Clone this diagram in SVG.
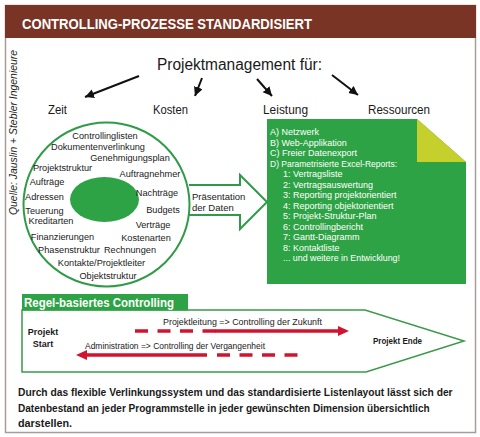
<svg xmlns="http://www.w3.org/2000/svg" width="480" height="437" viewBox="0 0 480 437">
<style>
text{font-family:"Liberation Sans",Arial,sans-serif;fill:#1a1a1a}
.ct{font-size:9.2px;text-anchor:middle}
.bx{font-size:9px;fill:#fff}
.lbl{font-size:13px}
.red{stroke:#d3132d;stroke-width:3.5;fill:none}
.blk{stroke:#111;stroke-width:2;fill:none;marker-end:url(#ah)}
.b{font-weight:bold}
.fz{font-size:11.5px;font-weight:bold}
</style>
<defs>
<marker id="ah" markerUnits="userSpaceOnUse" markerWidth="10" markerHeight="10" refX="9" refY="4.5" orient="auto"><path d="M0,0 L9,4.5 L0,9 z" fill="#111"/></marker>
</defs>
<rect x="0" y="0" width="480" height="437" fill="#fff"/>
<rect id="frame" x="5.5" y="5.5" width="470" height="427" fill="none" stroke="#a99c98" stroke-width="1.5"/>
<g id="header">
<rect x="5" y="5" width="471" height="33" fill="#7a3425"/>
<text x="22" y="29" font-size="15.5" class="b" style="fill:#fff" textLength="290" lengthAdjust="spacingAndGlyphs">CONTROLLING-PROZESSE STANDARDISIERT</text>
</g>
<text id="source" transform="translate(17,132.5) rotate(-90)" font-size="10" font-style="italic" text-anchor="middle" textLength="165" lengthAdjust="spacingAndGlyphs">Quelle: Jauslin + Stebler Ingenieure</text>
<g id="pm"><text x="157" y="69.5" font-size="16" textLength="165" lengthAdjust="spacingAndGlyphs">Projektmanagement für:</text></g>
<g id="zeit"><text x="48" y="114" class="lbl" textLength="19" lengthAdjust="spacingAndGlyphs">Zeit</text></g>
<g id="kosten"><text x="153" y="114" class="lbl" textLength="35" lengthAdjust="spacingAndGlyphs">Kosten</text></g>
<g id="leistung"><text x="263" y="114" class="lbl" textLength="45" lengthAdjust="spacingAndGlyphs">Leistung</text></g>
<g id="ressourcen"><text x="368" y="114" class="lbl" textLength="62" lengthAdjust="spacingAndGlyphs">Ressourcen</text></g>
<g id="connectors">
<line class="blk" x1="139" y1="76" x2="85" y2="97"/>
<line class="blk" x1="202" y1="78" x2="195" y2="96"/>
<line class="blk" x1="257" y1="79" x2="272" y2="96"/>
<line class="blk" x1="332" y1="75" x2="358" y2="95"/>
</g>
<g id="datenkreis">
<ellipse cx="106.5" cy="204.5" rx="83" ry="82" fill="none" stroke="#2f9b48" stroke-width="2"/>
<ellipse cx="104.5" cy="199.5" rx="34.5" ry="22.5" fill="#2ea345"/>
<text class="ct" x="105" y="139">Controllinglisten</text>
<text class="ct" x="98" y="150">Dokumentenverlinkung</text>
<text class="ct" x="130" y="160.5">Genehmigungsplan</text>
<text class="ct" x="62.5" y="170.5">Projektstruktur</text>
<text class="ct" x="150" y="177">Auftragnehmer</text>
<text class="ct" x="47" y="184.5">Aufträge</text>
<text class="ct" x="44.5" y="199.5">Adressen</text>
<text class="ct" x="157" y="195.5">Nachträge</text>
<text class="ct" x="44.5" y="213.5">Teuerung</text>
<text class="ct" x="163" y="212.5">Budgets</text>
<text class="ct" x="51" y="223.5">Kreditarten</text>
<text class="ct" x="153" y="227.5">Verträge</text>
<text class="ct" x="62.5" y="239.5">Finanzierungen</text>
<text class="ct" x="146" y="240.5">Kostenarten</text>
<text class="ct" x="69" y="252.5">Phasenstruktur</text>
<text class="ct" x="130" y="252.5">Rechnungen</text>
<text class="ct" x="101.5" y="266">Kontakte/Projektleiter</text>
<text class="ct" x="108" y="278.5">Objektstruktur</text>
</g>
<g id="praesentation">
<path d="M189,185 H240 V175 L267,202 L240,229 V215 H189" fill="none" stroke="#2f9b48" stroke-width="2"/>
<text x="192" y="199.5" font-size="9.5">Präsentation</text>
<text x="192" y="211" font-size="9.5">der Daten</text>
</g>
<g id="ausgabe">
<polygon points="267,119 417,119 466,162 466,284 267,284" fill="#2ea345"/>
<polygon points="417,119 417,162 466,162" fill="#c6d02c"/>
<text class="bx" x="270" y="135">A) Netzwerk</text>
<text class="bx" x="270" y="145.5">B) Web-Applikation</text>
<text class="bx" x="270" y="156">C) Freier Datenexport</text>
<text class="bx" x="270" y="166.5" textLength="127" lengthAdjust="spacingAndGlyphs">D) Parametrisierte Excel-Reports:</text>
<text class="bx" x="283" y="177">1: Vertragsliste</text>
<text class="bx" x="283" y="187.5">2: Vertragsauswertung</text>
<text class="bx" x="283" y="198">3: Reporting projektorientiert</text>
<text class="bx" x="283" y="208.5">4: Reporting objektorientiert</text>
<text class="bx" x="283" y="219">5: Projekt-Struktur-Plan</text>
<text class="bx" x="283" y="229.5">6: Controllingbericht</text>
<text class="bx" x="283" y="240">7: Gantt-Diagramm</text>
<text class="bx" x="283" y="250.5">8: Kontaktliste</text>
<text class="bx" x="283" y="261" textLength="117" lengthAdjust="spacingAndGlyphs">... und weitere in Entwicklung!</text>
</g>
<g id="regel">
<polygon points="22,310 365,310 464,341 366,372 22,372" fill="none" stroke="#3a9a4a" stroke-width="1.5"/>
<rect x="22" y="294" width="166" height="16.5" fill="#2ea345"/>
<text x="24" y="307" font-size="13" class="b" style="fill:#fff" textLength="150" lengthAdjust="spacingAndGlyphs">Regel-basiertes Controlling</text>
<text x="43" y="335" font-size="9" class="b" text-anchor="middle">Projekt</text>
<text x="43" y="346.5" font-size="9" class="b" text-anchor="middle">Start</text>
<text x="373" y="343.5" font-size="9.5" class="b" textLength="49" lengthAdjust="spacingAndGlyphs">Projekt Ende</text>
<text x="163" y="325" font-size="9.5" textLength="159" lengthAdjust="spacingAndGlyphs">Projektleitung =&gt; Controlling der Zukunft</text>
<text x="85" y="349" font-size="9.5" textLength="180" lengthAdjust="spacingAndGlyphs">Administration =&gt; Controlling der Vergangenheit</text>
<path class="red" d="M135,331 H217" stroke-dasharray="13 9.5"/>
<path class="red" d="M215,331 H340"/>
<polygon points="338,326 349,331 338,336" fill="#d3132d"/>
<path class="red" d="M86,355 H207"/>
<polygon points="87,350 76,355 87,360" fill="#d3132d"/>
<path class="red" d="M217,355 H298" stroke-dasharray="13 9.5"/>
</g>
<g id="fazit">
<text class="fz" transform="translate(18,396) scale(0.82,1)" textLength="530" lengthAdjust="spacingAndGlyphs">Durch das flexible Verlinkungssystem und das standardisierte Listenlayout lässt sich der</text>
<text class="fz" transform="translate(18,411.5) scale(0.82,1)" textLength="502" lengthAdjust="spacingAndGlyphs">Datenbestand an jeder Programmstelle in jeder gewünschten Dimension übersichtlich</text>
<text class="fz" transform="translate(18,427) scale(0.82,1)" textLength="66" lengthAdjust="spacingAndGlyphs">darstellen.</text>
</g>
</svg>
